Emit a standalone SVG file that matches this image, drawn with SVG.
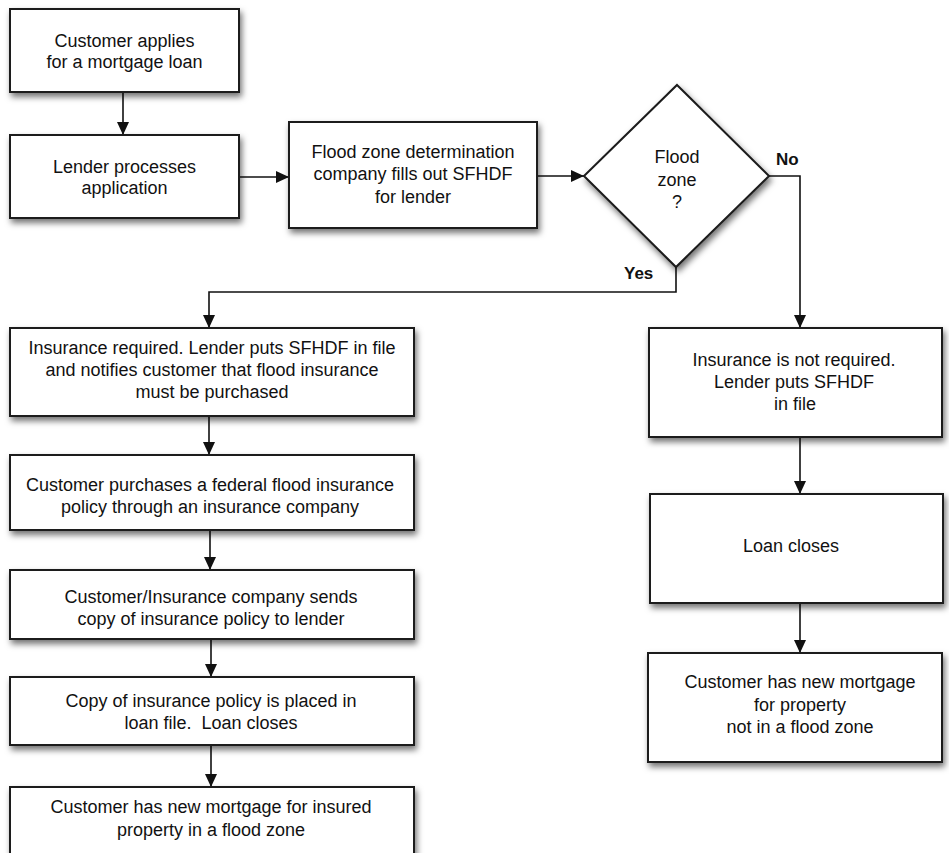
<svg xmlns="http://www.w3.org/2000/svg" width="949" height="853" viewBox="0 0 949 853">
<defs>
<filter id="sh" x="-10%" y="-10%" width="125%" height="130%">
<feDropShadow dx="2" dy="4" stdDeviation="3" flood-color="#000" flood-opacity="0.55"/>
</filter>
<marker id="ah" markerUnits="userSpaceOnUse" markerWidth="13" markerHeight="12" refX="13" refY="6" orient="auto">
<path d="M0,0 L13,6 L0,12 z" fill="#111"/>
</marker>
<style>
.box{fill:#fff;stroke:#1a1a1a;stroke-width:2;filter:url(#sh)}
.t{font-family:"Liberation Sans",Arial,Helvetica,sans-serif;font-size:18px;fill:#111;text-anchor:middle;white-space:pre}
.lbl{font-family:"Liberation Sans",Arial,Helvetica,sans-serif;font-size:17px;font-weight:bold;fill:#111}
.c{fill:none;stroke:#111;stroke-width:1.6;marker-end:url(#ah)}
</style>
</defs>
<rect width="949" height="853" fill="#fff"/>

<g id="connectors">
<path class="c" d="M123,92 L123,135"/>
<path class="c" d="M239,177 L289,177"/>
<path class="c" d="M537,176 L584,176"/>
<path class="c" d="M769,176 L800,176 L800,328"/>
<path class="c" d="M676,267 L676,292 L209,292 L209,328"/>
<path class="c" d="M209,416 L209,455"/>
<path class="c" d="M210,530 L210,570"/>
<path class="c" d="M211,639 L211,677"/>
<path class="c" d="M211,745 L211,787"/>
<path class="c" d="M800,437 L800,494"/>
<path class="c" d="M800,603 L800,653"/>
<text class="lbl" x="776" y="165">No</text>
<text class="lbl" x="624" y="279">Yes</text>
</g>

<g id="n1">
<rect class="box" x="10" y="9" width="229" height="83"/>
<text class="t" x="124.5" y="46.5">Customer applies</text>
<text class="t" x="124.5" y="68">for a mortgage loan</text>
</g>

<g id="n2">
<rect class="box" x="10" y="135" width="229" height="83"/>
<text class="t" x="124.5" y="172.5">Lender processes</text>
<text class="t" x="124.5" y="194">application</text>
</g>

<g id="n3">
<rect class="box" x="289" y="122" width="248" height="106"/>
<text class="t" x="413" y="157.5">Flood zone determination</text>
<text class="t" x="413" y="180">company fills out SFHDF</text>
<text class="t" x="413" y="202.5">for lender</text>
</g>

<g id="d1">
<polygon class="box" points="677,85 769,176 676,267 584,176"/>
<text class="t" x="677" y="163">Flood</text>
<text class="t" x="677" y="185.5">zone</text>
<text class="t" x="677" y="208">?</text>
</g>

<g id="n4">
<rect class="box" x="10" y="328" width="404" height="88"/>
<text class="t" x="212" y="353.5">Insurance required. Lender puts SFHDF in file</text>
<text class="t" x="212" y="375.5">and notifies customer that flood insurance</text>
<text class="t" x="212" y="397.5">must be purchased</text>
</g>

<g id="n5">
<rect class="box" x="10" y="455" width="404" height="75"/>
<text class="t" x="210" y="491">Customer purchases a federal flood insurance</text>
<text class="t" x="210" y="513">policy through an insurance company</text>
</g>

<g id="n6">
<rect class="box" x="10" y="570" width="404" height="69"/>
<text class="t" x="211" y="603">Customer/Insurance company sends</text>
<text class="t" x="211" y="625">copy of insurance policy to lender</text>
</g>

<g id="n7">
<rect class="box" x="10" y="677" width="404" height="68"/>
<text class="t" x="211" y="707">Copy of insurance policy is placed in</text>
<text class="t" x="211" y="729" xml:space="preserve">loan file.  Loan closes</text>
</g>

<g id="n8">
<rect class="box" x="10" y="787" width="404" height="84"/>
<text class="t" x="211" y="813">Customer has new mortgage for insured</text>
<text class="t" x="211" y="835.5">property in a flood zone</text>
</g>

<g id="n9">
<rect class="box" x="649" y="328" width="293" height="109"/>
<text class="t" x="794" y="366">Insurance is not required.</text>
<text class="t" x="794" y="388">Lender puts SFHDF</text>
<text class="t" x="795" y="410">in file</text>
</g>

<g id="n10">
<rect class="box" x="650" y="494" width="293" height="109"/>
<text class="t" x="791" y="552">Loan closes</text>
</g>

<g id="n11">
<rect class="box" x="648" y="653" width="294" height="109"/>
<text class="t" x="800" y="688">Customer has new mortgage</text>
<text class="t" x="800" y="710.5">for property</text>
<text class="t" x="800" y="733">not in a flood zone</text>
</g>
</svg>
